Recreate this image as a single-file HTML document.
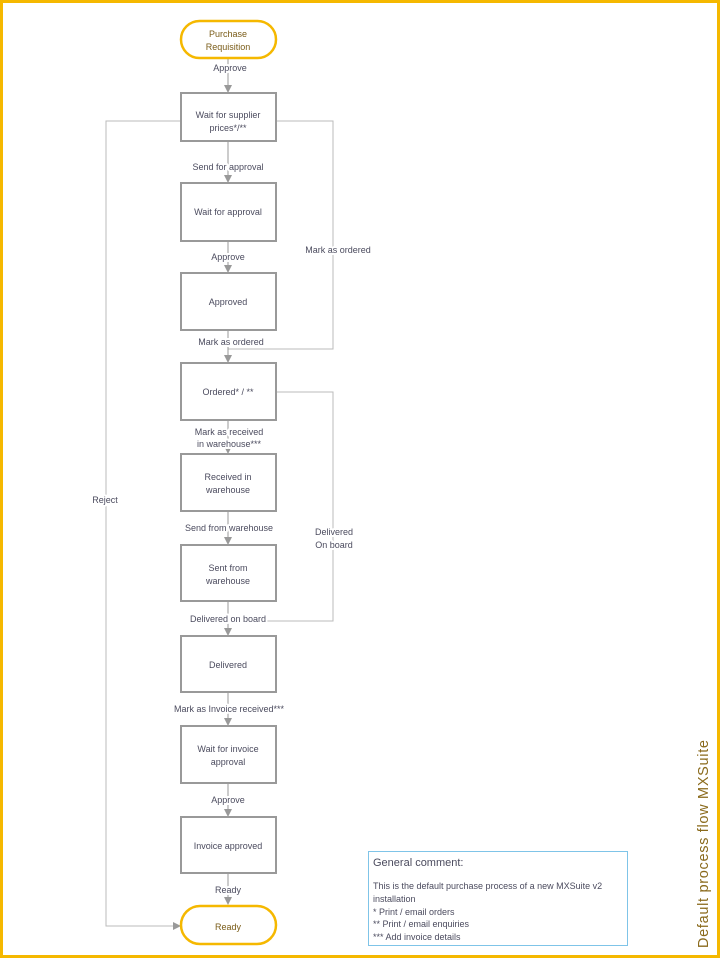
<!DOCTYPE html>
<html><head><style>
body{margin:0;background:#fff}
svg{display:block}
text{font-family:"Liberation Sans",sans-serif;font-size:9px;fill:#4b4b5e}
.t{fill:#7a5c18}
.v{fill:#8a6a1c;font-size:14.5px}
</style></head><body>
<svg width="722" height="960" viewBox="0 0 722 960">
<defs><marker id="a" markerWidth="8" markerHeight="8" refX="7" refY="4" orient="auto" markerUnits="userSpaceOnUse"><path d="M0,0 L8,4 L0,8z" fill="#999"/></marker></defs>
<rect x="1.5" y="1.5" width="717" height="955" fill="none" stroke="#f5b800" stroke-width="3"/>
<g fill="none" stroke="#bbb" stroke-width="1">
<path d="M181,121 H106 V926 H180" marker-end="url(#a)"/>
<path d="M276,121 H333 V349 H228"/>
<path d="M276,392 H333 V621 H228"/>
</g>
<g stroke="#999" stroke-width="1" fill="none">
<path d="M228,58 V92" marker-end="url(#a)"/>
<path d="M228,141 V182" marker-end="url(#a)"/>
<path d="M228,241 V272" marker-end="url(#a)"/>
<path d="M228,330 V362" marker-end="url(#a)"/>
<path d="M228,420 V453" marker-end="url(#a)"/>
<path d="M228,511 V544" marker-end="url(#a)"/>
<path d="M228,601 V635" marker-end="url(#a)"/>
<path d="M228,692 V725" marker-end="url(#a)"/>
<path d="M228,783 V816" marker-end="url(#a)"/>
<path d="M228,873 V904" marker-end="url(#a)"/>
</g>
<g fill="#fff" stroke="#999" stroke-width="2">
<rect x="181" y="93" width="95" height="48"/>
<rect x="181" y="183" width="95" height="58"/>
<rect x="181" y="273" width="95" height="57"/>
<rect x="181" y="363" width="95" height="57"/>
<rect x="181" y="454" width="95" height="57"/>
<rect x="181" y="545" width="95" height="56"/>
<rect x="181" y="636" width="95" height="56"/>
<rect x="181" y="726" width="95" height="57"/>
<rect x="181" y="817" width="95" height="56"/>
</g>
<g fill="#fff" stroke="#f5b800" stroke-width="2.5">
<rect x="181" y="21" width="95" height="37" rx="18.5"/>
<rect x="181" y="906" width="95" height="38" rx="19"/>
</g>
<g text-anchor="middle">
<text class="t" x="228" y="37">Purchase</text>
<text class="t" x="228" y="50">Requisition</text>
<text class="t" x="228" y="930">Ready</text>
<text x="228" y="118">Wait for supplier</text><text x="228" y="131">prices*/**</text>
<text x="228" y="215">Wait for approval</text>
<text x="228" y="305">Approved</text>
<text x="228" y="395">Ordered* / **</text>
<text x="228" y="480">Received in</text><text x="228" y="493">warehouse</text>
<text x="228" y="571">Sent from</text><text x="228" y="584">warehouse</text>
<text x="228" y="668">Delivered</text>
<text x="228" y="752">Wait for invoice</text><text x="228" y="765">approval</text>
<text x="228" y="849">Invoice approved</text>
</g>
<g text-anchor="middle" stroke="#fff" stroke-width="4" stroke-linejoin="round" paint-order="stroke">
<text x="230" y="71">Approve</text>
<text x="228" y="170">Send for approval</text>
<text x="228" y="260">Approve</text>
<text x="231" y="345">Mark as ordered</text>
<text x="229" y="435">Mark as received</text>
<text x="229" y="447">in warehouse***</text>
<text x="229" y="531">Send from warehouse</text>
<text x="228" y="622">Delivered on board</text>
<text x="229" y="712">Mark as Invoice received***</text>
<text x="228" y="803">Approve</text>
<text x="228" y="893">Ready</text>
<text x="338" y="253">Mark as ordered</text>
<text x="334" y="535">Delivered</text>
<text x="334" y="548">On board</text>
<text x="105" y="503">Reject</text>
</g>
<rect x="368.5" y="851.5" width="259" height="94" fill="#fff" stroke="#7fc4e8" stroke-width="1"/>
<text x="373" y="866" style="font-size:11px">General comment:</text>
<text x="373" y="889">This is the default purchase process of a new MXSuite v2</text>
<text x="373" y="902">installation</text>
<text x="373" y="915">* Print / email orders</text>
<text x="373" y="927">** Print / email enquiries</text>
<text x="373" y="940">*** Add invoice details</text>
<text class="v" transform="translate(708,948) rotate(-90)" textLength="208" lengthAdjust="spacing">Default process flow MXSuite</text>
</svg>
</body></html>
